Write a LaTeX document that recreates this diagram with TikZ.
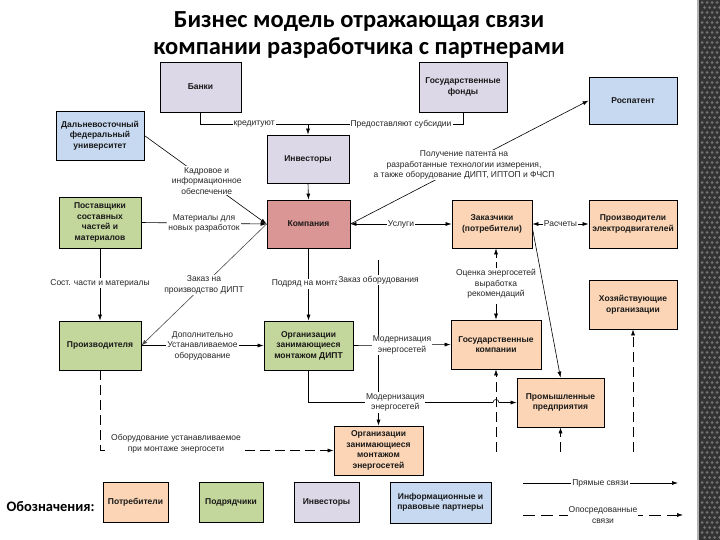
\documentclass[tikz,border=0pt]{standalone}
\usepackage{fontspec}
\setmainfont{Liberation Sans}
\newfontfamily\titlefont{Carlito}
\usetikzlibrary{arrows.meta,calc}
\definecolor{lav}{RGB}{221,216,232}
\definecolor{lblue}{RGB}{198,217,241}
\definecolor{rose}{RGB}{217,150,148}
\definecolor{peach}{RGB}{251,213,181}
\definecolor{lgreen}{RGB}{195,214,155}
\newcommand\mybox[7]{\node[box, fill=#6, minimum width=#4pt, minimum height=#5pt] (#1) at (#2,#3) {#7};}
\begin{document}
\begin{tikzpicture}[x=1pt,y=-1pt,
  box/.style={draw=black, line width=0.8pt, align=center, inner sep=1pt,
    font=\fontsize{8.5}{10.5}\selectfont\bfseries, text=black!90},
  lbl/.style={fill=white, align=center, inner sep=1pt,
    font=\fontsize{8.5}{10.5}\selectfont, text=black!85},
  conn/.style={line width=0.6pt, black},
  arr/.style={conn, -{Latex[length=6pt,width=4pt]}},
  darr/.style={conn, {Latex[length=6pt,width=4pt]}-{Latex[length=6pt,width=4pt]}},
  ind/.style={conn, dash pattern=on 10pt off 5pt}]
\useasboundingbox (0,0) rectangle (720,540);
\fill[white] (0,0) rectangle (720,540);
% right decorative strip
\fill[black!80] (697,0) rectangle (720,540);
\fill[black!30] (697,0) rectangle (699,540);
\foreach \i in {0,...,107} \foreach \j in {0,1,2,3}
  \fill[black!55] ({702+\j*5+mod(\i,2)*2.5},{\i*5+2.5}) circle (1.5);
% title
\node[font=\titlefont\bfseries\fontsize{24.5}{27.5}\selectfont, align=center] (title) at (359,35)
  {Бизнес модель отражающая связи\\компании разработчика с партнерами};
% boxes
\mybox{banki}{200.5}{87}{81}{50}{lav}{Банки}
\mybox{gf}{463}{87}{88}{50}{lav}{Государственные\\фонды}
\mybox{rosp}{633}{100.5}{88}{47}{lblue}{Роспатент}
\mybox{dvfu}{100}{135.5}{88}{49}{lblue}{Дальневосточный\\федеральный\\университет}
\mybox{inv}{308}{159}{82}{48}{lav}{Инвесторы}
\mybox{komp}{308.5}{224}{83}{48}{rose}{Компания}
\mybox{zak}{492}{224}{80}{48}{peach}{Заказчики\\(потребители)}
\mybox{ped}{633}{224}{88}{48}{peach}{Производители\\электродвигателей}
\mybox{post}{100}{222.5}{82}{51}{lgreen}{Поставщики\\составных\\частей и\\материалов}
\mybox{hoz}{633}{304.5}{88}{49}{peach}{Хозяйствующие\\организации}
\mybox{proizv}{100}{345.5}{82}{49}{lgreen}{Производителя}
\mybox{odipt}{308.5}{345.5}{89}{49}{lgreen}{Организации\\занимающиеся\\монтажом ДИПТ}
\mybox{gk}{496}{344.5}{90}{49}{peach}{Государственные\\компании}
\mybox{pp}{560.5}{402.5}{87}{49}{peach}{Промышленные\\предприятия}
\mybox{oes}{378.5}{450.5}{89}{49}{peach}{Организации\\занимающиеся\\монтажом\\энергосетей}
% legend
\node[anchor=west, font=\titlefont\bfseries\fontsize{14.5}{16}\selectfont] (leg) at (3,507) {Обозначения:};
\mybox{l1}{135.5}{502}{65}{40}{peach}{Потребители}
\mybox{l2}{231}{502}{64}{40}{lgreen}{Подрядчики}
\mybox{l3}{326.5}{502}{65}{40}{lav}{Инвесторы}
\mybox{l4}{440.5}{502.5}{101}{41}{lblue}{Информационные и\\правовые партнеры}
\coordinate (ls1) at (523,483); \coordinate (le1) at (678,483);
\coordinate (ls2) at (523,515); \coordinate (le2) at (683,515);
\draw[arr] (ls1) -- node[lbl]{Прямые связи} (le1);
\draw[arr, dash pattern=on 12pt off 6pt] (ls2) -- node[lbl]{Опосредованные\\связи} (le2);
% connectors
\coordinate (j1) at (308,124);
\draw[conn] (banki.south) |- node[lbl, pos=0.75]{кредитуют} (j1);
\draw[conn] (gf.south) |- node[lbl, pos=0.7]{Предоставляют субсидии} (j1);
\draw[arr] (j1) -- (inv.north);
\draw[arr] (inv.south) -- (komp.north);
\draw[arr] (dvfu.east) -- node[lbl, pos=0.51]{Кадровое и\\информационное\\обеспечение} (komp.west);
\draw[arr] (post.east) -- node[lbl]{Материалы для\\новых разработок} (komp.west);
\draw[arr, black!70] (komp.west) -- node[lbl, pos=0.5]{Заказ на\\производство ДИПТ} (proizv.east);
\draw[arr] (komp.east) -- node[lbl, pos=0.477]{Получение патента на\\разработанные технологии измерения,\\а также оборудование ДИПТ, ИПТОП и ФЧСП} (rosp.west);
\draw[darr] (komp.east) -- node[lbl]{Услуги} (zak.west);
\draw[darr] (zak.east) -- node[lbl]{Расчеты} (ped.west);
\draw[arr] (post.south) -- node[lbl, pos=0.48]{Сост. части и материалы} (proizv.north);
\draw[arr] (komp.south) -- node[lbl, pos=0.49]{Подряд на монтаж} (odipt.north);
\coordinate (z0) at (378.5,260);
\draw[arr] (z0) -- node[lbl, pos=0.12]{Заказ оборудования} (oes.north);
\draw[arr] (proizv.east) -- node[lbl]{Дополнительно\\Устанавливаемое\\оборудование} (odipt.west);
\draw[arr] (odipt.east) -- node[lbl]{Модернизация\\энергосетей} (gk.west);
\draw[darr, dash pattern=on 10pt off 4pt] (gk.north) -- node[lbl]{Оценка энергосетей\\выработка\\рекомендаций} (gk.north |- zak.south);
\draw[arr] ([yshift=-4pt]zak.east) -- (pp.north);
\draw[arr] (odipt.south) -- (odipt.south |- pp.west)
  -- node[lbl, pos=0.47]{Модернизация\\энергосетей} ($(gk.south |- pp.west)+(-3,0)$)
  .. controls +(0,-4) and +(0,-4) .. ($(gk.south |- pp.west)+(3,0)$) -- (pp.west);
\coordinate (e1) at (496,452);
\coordinate (e2) at (560.5,452);
\coordinate (e3) at (633,452);
\draw[arr, ind] (e1) -- (gk.south);
\draw[arr, ind] (e2) -- (pp.south);
\draw[arr, ind] (e3) -- (hoz.south);
\draw[arr, ind] (proizv.south) |- (oes.west);
\node[lbl] (eqlbl) at (176,444) {Оборудование устанавливаемое\\при монтаже энергосети};
\end{tikzpicture}
\end{document}
